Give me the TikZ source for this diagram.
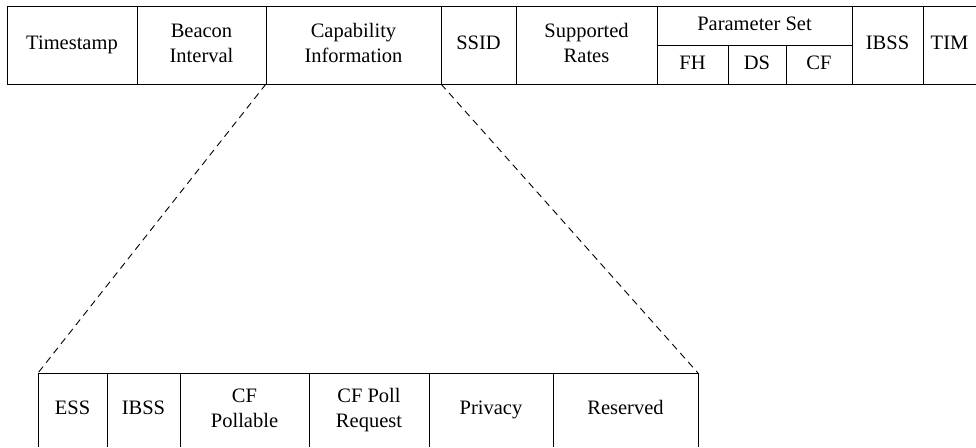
\documentclass[tikz,border=0pt]{standalone}
\usepackage{fontspec}
\setmainfont{Liberation Serif}
\newcommand\fieldline[1]{\strut#1}
\begin{document}
\begin{tikzpicture}[x=1pt,y=-1pt,
  line width=1pt,
  txt/.style={font=\fontsize{20.5}{24.5}\selectfont, align=center},
  cell/.style={txt, draw, inner sep=0pt, outer sep=0pt, anchor=north west,
               minimum height=#1},
  cell/.default=78pt,
  bare/.style={txt, inner sep=0pt, outer sep=0pt, anchor=north west,
               minimum height=74pt},
  zoomline/.style={dashed, dash pattern=on 7pt off 5pt, line width=0.9pt}
]
\useasboundingbox (0,0) rectangle (976,447);

% Beacon frame body fields
\node[cell, minimum width=130pt] (ts)   at (7,6)   {\fieldline{Timestamp}};
\node[cell, minimum width=129pt] (bi)   at (137,6) {\fieldline{Beacon}\\\fieldline{Interval}};
\node[cell, minimum width=175pt] (cap)  at (266,6) {\fieldline{Capability}\\\fieldline{Information}};
\node[cell, minimum width=75pt]  (ssid) at (441,6) {\fieldline{SSID}};
\node[cell, minimum width=141pt] (sr)   at (516,6) {\fieldline{Supported}\\\fieldline{Rates}};
\node[cell=39pt, minimum width=195pt] (ps) at (657,6) {\fieldline{Parameter Set}};
\node[cell=39pt, minimum width=71pt] (fh) at (657,45) {\fieldline{FH}};
\node[cell=39pt, minimum width=58pt] (ds) at (728,45) {\fieldline{DS}};
\node[cell=39pt, minimum width=66pt] (cf) at (786,45) {\fieldline{CF}};
\node[cell, minimum width=71pt]  (ibss) at (852,6) {\fieldline{IBSS}};
\node[txt, inner sep=0pt, outer sep=0pt, anchor=north west,
      minimum width=53pt, minimum height=78pt] (tim) at (923,6) {\fieldline{TIM}};
\draw (tim.north east) -- (tim.north west) -- (tim.south west) -- (tim.south east);

% Capability Information subfields
\node[bare, minimum width=69pt]  (ess)  at (38,373)  {\fieldline{ESS}};
\node[bare, minimum width=73pt]  (ibs)  at (107,373) {\fieldline{IBSS}};
\node[bare, minimum width=129pt] (cfp)  at (180,373) {\fieldline{CF}\\\fieldline{Pollable}};
\node[bare, minimum width=120pt] (cfpr) at (309,373) {\fieldline{CF Poll}\\\fieldline{Request}};
\node[bare, minimum width=124pt] (priv) at (429,373) {\fieldline{Privacy}};
\node[bare, minimum width=145pt] (res)  at (553,373) {\fieldline{Reserved}};
\draw (ess.south west) -- (ess.north west) -- (res.north east) -- (res.south east);
\foreach \c in {ibs,cfp,cfpr,priv,res}
  \draw (\c.north west) -- (\c.south west);

% Expansion lines
\draw[zoomline] (cap.south west) -- (ess.north west);
\draw[zoomline] (cap.south east) -- (res.north east);
\end{tikzpicture}
\end{document}
